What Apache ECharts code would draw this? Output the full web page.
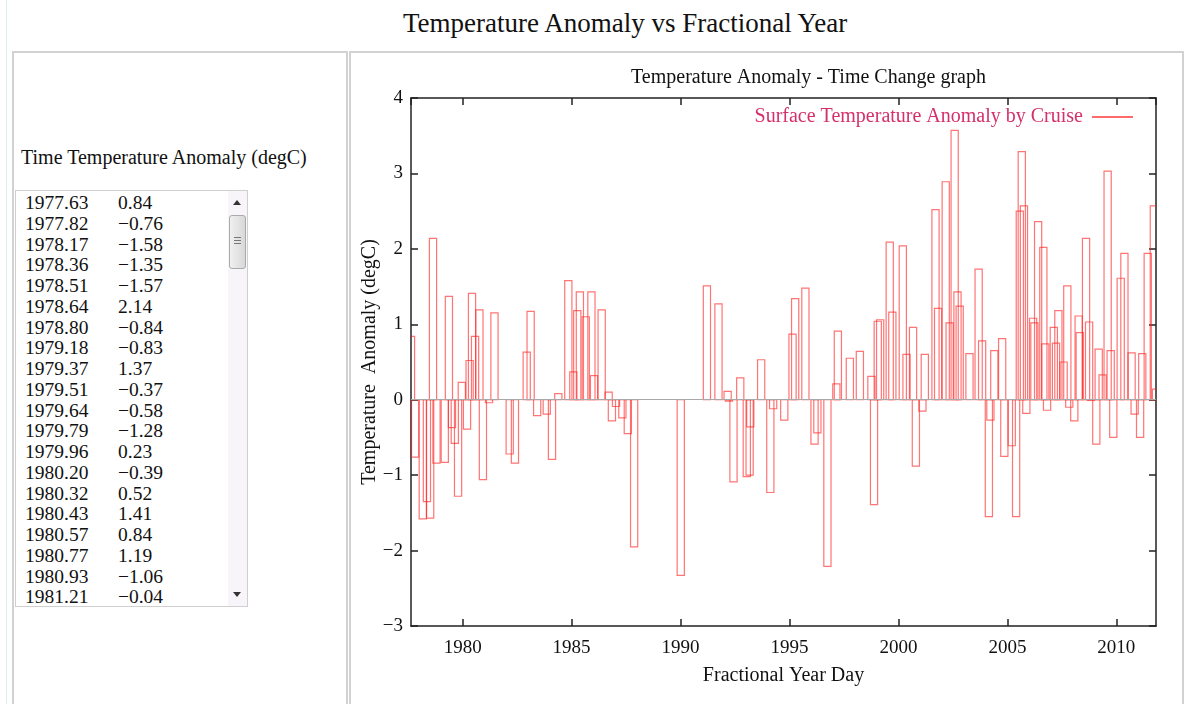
<!DOCTYPE html>
<html>
<head>
<meta charset="utf-8">
<script src="https://cdn.jsdelivr.net/npm/echarts@6/dist/echarts.min.js"></script>
<style>
  body { margin: 0; width: 1189px; height: 704px; background: #fff; position: relative; overflow: hidden;
         font-family: "Liberation Serif", "DejaVu Serif", serif; color: #111; }
  #edge { position: absolute; left: 6px; top: 0; width: 1px; height: 704px; background: #dcefef; }
  #pageTitle { position: absolute; left: 403px; top: 8px; font-size: 27px; white-space: nowrap; }
  #leftPanel { position: absolute; left: 12px; top: 51px; width: 332px; height: 660px; border: 2px solid #d2d2d2; }
  #rightPanel { position: absolute; left: 349px; top: 51px; width: 831px; height: 651px; border: 2px solid #d2d2d2; }
  #listTitle { position: absolute; left: 7px; top: 93px; font-size: 20px; white-space: nowrap; }
  #listBox { position: absolute; left: 1px; top: 137px; width: 233px; height: 417px; border: 1px solid #cfcfcf; box-sizing: border-box; }
  #list { position: absolute; left: 0; top: 0; width: 212px; height: 415px; overflow: hidden;
          font-size: 19.5px; line-height: 20.75px; padding-top: 2px; box-sizing: border-box; }
  #list div { white-space: nowrap; height: 20.75px; }
  #list span.t { display: inline-block; width: 93px; padding-left: 9px; }
  #sb { position: absolute; right: 0; top: 0; width: 19px; height: 415px; background: #f7f5f9; }
  .arrow { position: absolute; left: 5px; width: 0; height: 0; border-left: 4px solid transparent; border-right: 4px solid transparent; }
  #up { top: 9px; border-bottom: 5px solid #333; }
  #down { bottom: 9px; border-top: 5px solid #333; }
  #thumb { position: absolute; left: 1px; top: 24px; width: 15px; height: 52px; border: 1px solid #aaa; border-radius: 3px;
           background: linear-gradient(90deg, #f0f0f0, #d8d8d8); }
  #grip { position: absolute; left: 4px; top: 21px; width: 7px; height: 9px;
          background: repeating-linear-gradient(180deg, #777 0, #777 1px, transparent 1px, transparent 3px); }
  #chart { position: absolute; left: 352px; top: 53px; width: 829px; height: 649px; }
</style>
</head>
<body>
<div id="edge"></div>
<div id="pageTitle">Temperature Anomaly vs Fractional Year</div>
<div id="leftPanel">
  <div id="listTitle">Time Temperature Anomaly (degC)</div>
  <div id="listBox">
    <div id="list"></div>
    <div id="sb"><div class="arrow" id="up"></div><div id="thumb"><div id="grip"></div></div><div class="arrow" id="down"></div></div>
  </div>
</div>
<div id="rightPanel"></div>
<div id="chart"></div>
<script>
// fractional year of each cruise
var years = [
  1977.63, 1977.82, 1978.17, 1978.36, 1978.51, 1978.64, 1978.80, 1979.18, 1979.37, 1979.51,
  1979.64, 1979.79, 1979.96, 1980.20, 1980.32, 1980.43, 1980.57, 1980.77, 1980.93, 1981.21,
  1981.46, 1982.16, 1982.40, 1982.94, 1983.12, 1983.42, 1983.86, 1984.10, 1984.39, 1984.85,
  1985.08, 1985.26, 1985.38, 1985.65, 1985.91, 1986.03, 1986.38, 1986.70, 1986.85, 1987.04,
  1987.33, 1987.58, 1987.87, 1990.01, 1991.21, 1991.74, 1992.16, 1992.22, 1992.43, 1992.74,
  1993.04, 1993.17, 1993.20, 1993.70, 1994.12, 1994.25, 1994.76, 1995.14, 1995.26, 1995.73,
  1996.15, 1996.28, 1996.74, 1997.15, 1997.22, 1997.77, 1998.23, 1998.76, 1998.88, 1999.05,
  1999.16, 1999.60, 1999.72, 2000.20, 2000.37, 2000.67, 2000.80, 2001.10, 2001.21, 2001.70,
  2001.82, 2002.17, 2002.35, 2002.58, 2002.71, 2002.81, 2003.26, 2003.68, 2003.84, 2004.15,
  2004.22, 2004.40, 2004.76, 2004.86, 2005.20, 2005.40, 2005.57, 2005.66, 2005.76, 2005.87,
  2006.18, 2006.24, 2006.41, 2006.65, 2006.74, 2006.82, 2007.13, 2007.23, 2007.34, 2007.58,
  2007.75, 2007.84, 2008.07, 2008.27, 2008.32, 2008.61, 2008.75, 2008.84, 2009.08, 2009.19,
  2009.37, 2009.60, 2009.74, 2009.86, 2010.20, 2010.37, 2010.70, 2010.84, 2011.09, 2011.19,
  2011.44, 2011.72, 2011.82
];
// surface temperature anomaly (degC)
var anomalies = [
  0.84, -0.76, -1.58, -1.35, -1.57, 2.14, -0.84, -0.83, 1.37, -0.37,
  -0.58, -1.28, 0.23, -0.39, 0.52, 1.41, 0.84, 1.19, -1.06, -0.04,
  1.15, -0.72, -0.84, 0.63, 1.17, -0.21, -0.19, -0.79, 0.08, 1.58,
  0.37, 1.18, 1.43, 1.10, 1.43, 0.32, 1.19, 0.10, -0.28, -0.09,
  -0.24, -0.45, -1.95, -2.33, 1.51, 1.27, 0.11, -0.02, -1.09, 0.29,
  -1.02, -1.00, -0.36, 0.53, -1.23, -0.12, -0.27, 0.87, 1.34, 1.48,
  -0.59, -0.44, -2.21, 0.21, 0.91, 0.55, 0.64, 0.31, -1.39, 1.04,
  1.06, 2.09, 1.16, 2.04, 0.60, 0.96, -0.88, -0.15, 0.60, 2.52,
  1.21, 2.89, 1.02, 3.57, 1.43, 1.24, 0.61, 1.73, 0.78, -1.55,
  -0.27, 0.65, 0.81, -0.75, -0.61, -1.55, 2.50, 3.29, 2.57, -0.18,
  1.08, 1.02, 2.36, 2.02, 0.74, -0.14, 0.96, 0.75, 1.18, 0.50,
  1.51, -0.10, -0.28, 1.11, 0.89, 2.14, 1.03, -0.01, -0.59, 0.67,
  0.33, 3.03, 0.65, -0.50, 1.61, 1.94, 0.62, -0.19, -0.50, 0.61,
  1.94, 2.57, 0.14
];
var yTicks = [-3, -2, -1, 0, 1, 2, 3, 4];
var BOXW = 0.33;

// list on the left
var html = '';
for (var i = 0; i < years.length; i++) {
  var v = anomalies[i].toFixed(2).replace('-', '\u2212');
  html += '<div><span class="t">' + years[i].toFixed(2) + '</span><span>' + v + '</span></div>';
}
document.getElementById('list').innerHTML = html;

var serif = '"Liberation Serif", "DejaVu Serif", serif';
var myChart = echarts.init(document.getElementById('chart'));
var tick = { inside: true, length: 7, lineStyle: { color: '#222', width: 1.5 } };
var border = { show: true, onZero: false, lineStyle: { color: '#222', width: 1.5 } };

myChart.setOption({
  animation: false,
  title: {
    text: 'Temperature Anomaly - Time Change graph',
    left: 274, top: 10,
    textStyle: { fontFamily: serif, fontSize: 20, fontWeight: 'normal', color: '#111' }
  },
  legend: {
    right: 43, top: 49,
    align: 'right',
    itemWidth: 41, itemHeight: 2,
    data: [{ name: 'Surface Temperature Anomaly by Cruise', icon: 'rect', itemStyle: { color: '#ff6a6a' } }],
    textStyle: { fontFamily: serif, fontSize: 20, color: '#d4306a', padding: [0, 4, 0, 0] }
  },
  grid: { left: 59, right: 25, top: 45, bottom: 76, containLabel: false, outerBoundsMode: 'none' },
  xAxis: [
    {
      type: 'value', min: 1977.63, max: 2011.82, splitNumber: 7,
      name: 'Fractional Year Day', nameLocation: 'middle', nameGap: 40, nameMoveOverlap: false,
      nameTextStyle: { fontFamily: serif, fontSize: 20, color: '#111' },
      axisLine: border, axisTick: tick, splitLine: { show: false },
      axisLabel: {
        fontFamily: serif, fontSize: 19, color: '#111', margin: 13, showMinLabel: false, showMaxLabel: false,
        formatter: function (v) { return String(v); }
      }
    },
    {
      type: 'value', position: 'top', min: 1977.63, max: 2011.82, splitNumber: 7,
      axisLine: border, axisTick: tick, splitLine: { show: false }, axisLabel: { show: false }
    }
  ],
  yAxis: [
    {
      type: 'value', min: yTicks[0], max: yTicks[yTicks.length - 1], interval: 1,
      name: 'Temperature  Anomaly (degC)', nameLocation: 'middle', nameGap: 31, nameMoveOverlap: false,
      nameTextStyle: { fontFamily: serif, fontSize: 20, color: '#111' },
      axisLine: border, axisTick: tick, splitLine: { show: false },
      axisLabel: {
        fontFamily: serif, fontSize: 19, color: '#111', margin: 8,
        formatter: function (v) { return String(v).replace('-', '\u2212'); }
      }
    },
    {
      type: 'value', position: 'right', min: yTicks[0], max: yTicks[yTicks.length - 1], interval: 1,
      axisLine: border, axisTick: tick, splitLine: { show: false }, axisLabel: { show: false }
    }
  ],
  series: [
    {
      name: 'Surface Temperature Anomaly by Cruise',
      type: 'custom',
      clip: true,
      data: years.map(function (y, i) { return [y, anomalies[i]]; }),
      encode: { x: 0, y: 1 },
      itemStyle: { color: '#ff6a6a' },
      renderItem: function (params, api) {
        var x = api.value(0), v = api.value(1);
        var p0 = api.coord([x - BOXW / 2, v]);
        var p1 = api.coord([x + BOXW / 2, 0]);
        return {
          type: 'rect',
          shape: { x: p0[0], y: Math.min(p0[1], p1[1]), width: p1[0] - p0[0], height: Math.abs(p1[1] - p0[1]) },
          style: { fill: 'none', stroke: 'rgba(255,30,30,0.62)', lineWidth: 1.2 }
        };
      },
      markLine: {
        silent: true, symbol: 'none', label: { show: false },
        lineStyle: { color: '#a8a8a8', width: 1, type: 'solid' },
        data: [{ yAxis: 0 }]
      }
    }
  ]
});
</script>
</body>
</html>
